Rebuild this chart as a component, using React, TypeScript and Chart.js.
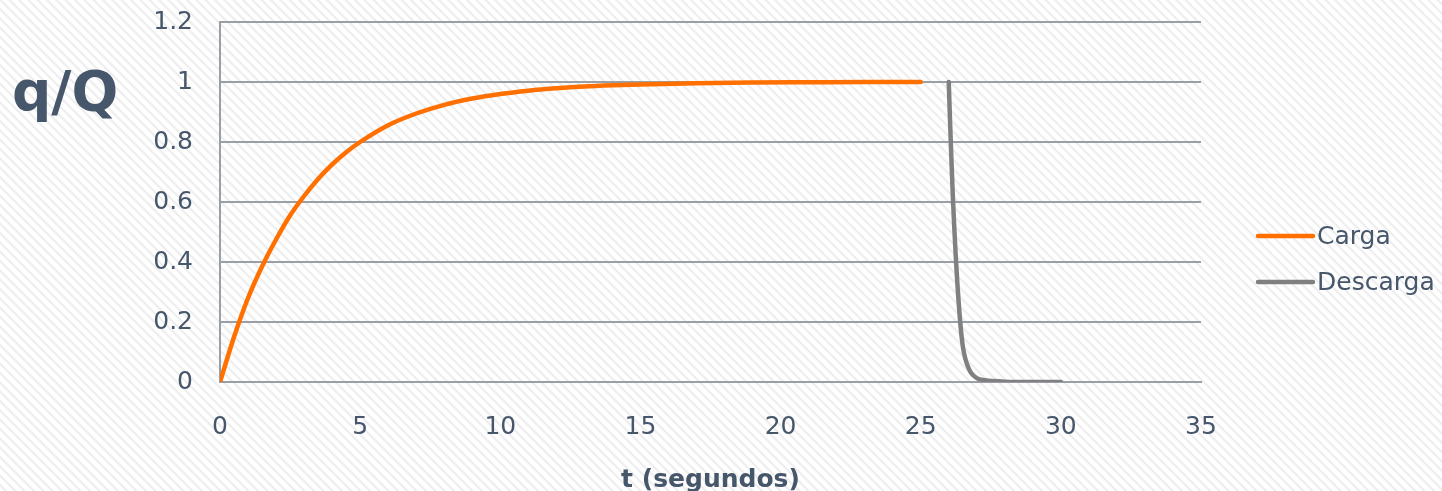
import React, { useEffect, useRef } from "react";
import { Chart, registerables } from "chart.js";

Chart.register(...registerables);

// ---- Data ----
const cargaT = [0, 0.5, 1, 1.5, 2, 2.5, 3, 3.5, 4, 4.5, 5, 6, 7, 8, 9, 10, 11, 12, 13, 14, 15, 17, 19, 21, 23, 25];
const cargaQ = [0, 0.15, 0.28, 0.385, 0.475, 0.555, 0.62, 0.677, 0.725, 0.766, 0.8, 0.856, 0.895, 0.924, 0.945, 0.96, 0.971, 0.979, 0.985, 0.989, 0.992, 0.996, 0.998, 0.999, 1.0, 1.0];

const descargaT = [26, 26.05, 26.1, 26.15, 26.2, 26.25, 26.3, 26.4, 26.5, 26.6, 26.7, 26.8, 27, 27.3, 27.6, 28, 29, 30];
const descargaQ = [1.0, 0.86, 0.73, 0.61, 0.51, 0.42, 0.34, 0.21, 0.12, 0.075, 0.048, 0.03, 0.013, 0.006, 0.003, 0.001, 0, 0];

const seriesLabels = ["Carga", "Descarga"];
const seriesColors = ["#FF7000", "#808080"];

const xTicks = [0, 5, 10, 15, 20, 25, 30, 35];
const yTicks = [0, 0.2, 0.4, 0.6, 0.8, 1, 1.2];

const xTitle = "t (segundos)";
const yTitle = "q/Q";

const TEXT = "#46566B";
const GRID = "#9A9FA5";
const FONT = "'DejaVu Sans', Verdana, sans-serif";

const extraText = {
  id: "extraText",
  afterDraw(chart: any) {
    const ctx = chart.ctx;
    ctx.save();
    // y title (horizontal)
    ctx.fillStyle = TEXT;
    ctx.font = `bold 55px ${FONT}`;
    ctx.textAlign = "left";
    ctx.textBaseline = "alphabetic";
    ctx.fillText(yTitle, 12, 110);
    // legend
    const area = chart.chartArea;
    const lx = area.right + 57;
    const ys = [236, 282];
    chart.data.datasets.forEach((ds: any, i: number) => {
      ctx.strokeStyle = ds.borderColor;
      ctx.lineWidth = 4.5;
      ctx.lineCap = "round";
      ctx.beginPath();
      ctx.moveTo(lx, ys[i]);
      ctx.lineTo(lx + 55, ys[i]);
      ctx.stroke();
      ctx.fillStyle = TEXT;
      ctx.font = `25px ${FONT}`;
      ctx.textBaseline = "middle";
      ctx.fillText(ds.label, lx + 59, ys[i] + 1);
    });
    ctx.restore();
  },
};

export default function App() {
  const ref = useRef<HTMLCanvasElement | null>(null);
  useEffect(() => {
    if (!ref.current) return;
    const chart = new Chart(ref.current, {
      type: "line",
      data: {
        datasets: [
          {
            label: seriesLabels[0],
            data: cargaT.map((t, i) => ({ x: t, y: cargaQ[i] })),
            borderColor: seriesColors[0],
            backgroundColor: seriesColors[0],
            borderWidth: 4.5,
            pointRadius: 0,
            cubicInterpolationMode: "monotone",
            borderCapStyle: "round",
          },
          {
            label: seriesLabels[1],
            data: descargaT.map((t, i) => ({ x: t, y: descargaQ[i] })),
            borderColor: seriesColors[1],
            backgroundColor: seriesColors[1],
            borderWidth: 4.5,
            pointRadius: 0,
            cubicInterpolationMode: "monotone",
            borderCapStyle: "round",
          },
        ],
      },
      options: {
        animation: false,
        responsive: true,
        maintainAspectRatio: false,
        layout: { padding: { left: 0, right: 241, top: 22, bottom: 0 } },
        plugins: {
          legend: { display: false },
          tooltip: { enabled: false },
        },
        scales: {
          x: {
            type: "linear",
            min: 0,
            max: 35,
            afterBuildTicks: (s: any) => {
              s.ticks = xTicks.map((v) => ({ value: v }));
            },
            afterFit: (s: any) => {
              s.height = 109;
              s.paddingLeft = 0;
              s.paddingRight = 0;
            },
            ticks: {
              color: TEXT,
              font: { family: FONT, size: 25 },
              padding: 30,
              maxRotation: 0,
              autoSkip: false,
            },
            grid: { drawOnChartArea: false, drawTicks: false },
            border: { display: true, color: GRID, width: 2 },
            title: {
              display: true,
              text: xTitle,
              color: TEXT,
              font: { family: FONT, size: 25, weight: "bold", lineHeight: 1 },
              padding: { top: 0, bottom: -2 },
            },
          },
          y: {
            type: "linear",
            min: 0,
            max: 1.2,
            afterBuildTicks: (s: any) => {
              s.ticks = yTicks.map((v) => ({ value: v }));
            },
            afterFit: (s: any) => {
              s.width = 220;
              s.paddingTop = 0;
              s.paddingBottom = 0;
            },
            ticks: {
              color: TEXT,
              font: { family: FONT, size: 25 },
              padding: 27,
              callback: (v: any) => String(Math.round(Number(v) * 10) / 10),
            },
            grid: { color: GRID, lineWidth: 2, drawTicks: false },
            border: { display: true, color: GRID, width: 2 },
          },
        },
      },
      plugins: [extraText],
    } as any);
    return () => chart.destroy();
  }, []);

  return (
    <div
      style={{
        position: "absolute",
        left: 0,
        top: 0,
        width: 1442,
        height: 491,
        background:
          "repeating-linear-gradient(45deg, #ffffff 0px, #ffffff 2.6px, #eeeeee 3.6px, #eeeeee 4.8px, #ffffff 5.8px, #ffffff 6.6px)",
      }}
    >
      <canvas ref={ref} />
    </div>
  );
}
